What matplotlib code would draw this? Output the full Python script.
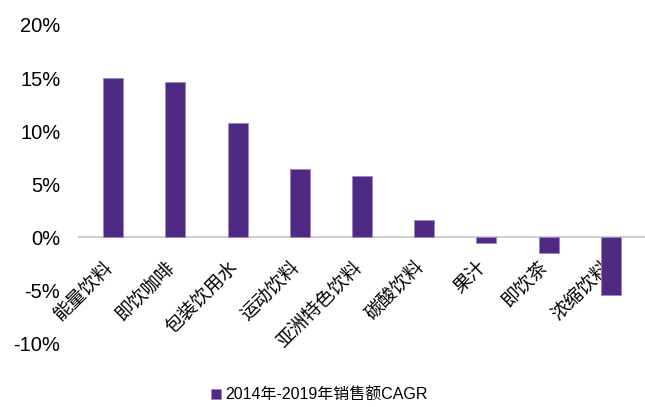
import matplotlib
matplotlib.use('Agg')
import matplotlib.pyplot as plt
import matplotlib.transforms as mtransforms
from matplotlib.ticker import FuncFormatter

plt.rcParams['font.family'] = ['Liberation Sans', 'Noto Sans CJK SC', 'DejaVu Sans']

categories = ['能量饮料', '即饮咖啡', '包装饮用水', '运动饮料', '亚洲特色饮料',
              '碳酸饮料', '果汁', '即饮茶', '浓缩饮料']
cagr = [15.0, 14.6, 10.8, 6.4, 5.8, 1.6, -0.6, -1.5, -5.5]
series_name = '2014年-2019年销售额CAGR'

fig = plt.figure(figsize=(6.45, 4.07), dpi=100)
ax = fig.add_axes([0.1225, 0.157, 0.8775, 0.7816])

x = list(range(len(categories)))
ax.bar(x, cagr, width=0.32, color='#4E2A84', edgecolor='#9C86C2',
       linewidth=0.6, label=series_name, zorder=2)

ax.set_ylim(-10, 20)
ax.set_yticks([-10, -5, 0, 5, 10, 15, 20])
ax.yaxis.set_major_formatter(FuncFormatter(lambda v, p: '%d%%' % v))
ax.set_xlim(-0.55, len(categories) - 0.45)

for s in ['top', 'right', 'left']:
    ax.spines[s].set_visible(False)
ax.spines['bottom'].set_position(('data', 0))
ax.spines['bottom'].set_color('#D0D0D0')
ax.spines['bottom'].set_linewidth(1.5)
ax.spines['bottom'].set_zorder(1)

ax.tick_params(axis='y', length=0, labelsize=14.5, pad=13.5)
ax.tick_params(axis='x', length=0, pad=19.5)
ax.set_xticks(x)
ax.set_xticklabels(categories, rotation=45, ha='right', rotation_mode='anchor',
                   fontsize=13.5, family=['Noto Sans CJK SC'])
shift = mtransforms.ScaledTranslation(-3 / 100, 0, fig.dpi_scale_trans)
for lbl in ax.get_xticklabels():
    lbl.set_va('center')
    lbl.set_transform(lbl.get_transform() + shift)

fig.legend(loc='lower center', bbox_to_anchor=(0.495, -0.025), frameon=False,
           handlelength=0.6, handleheight=0.6, handletextpad=0.25, fontsize=11.5)

fig.savefig('out.png', dpi=100)
